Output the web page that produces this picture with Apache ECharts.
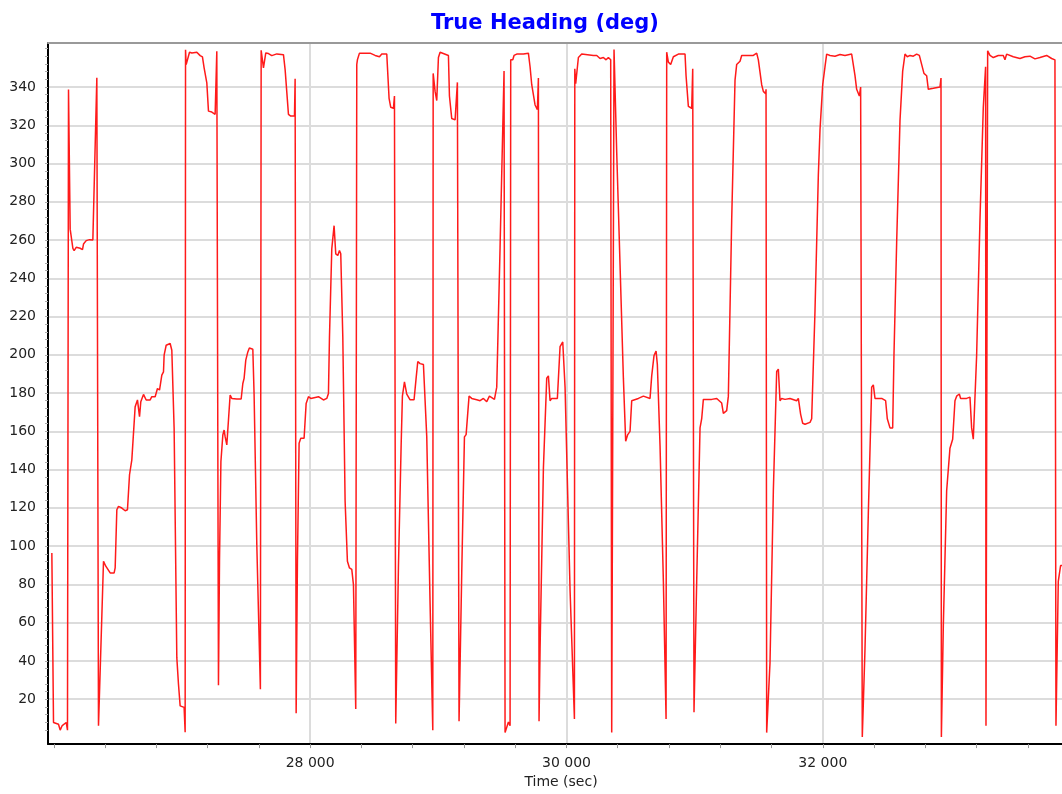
<!DOCTYPE html>
<html>
<head>
<meta charset="utf-8">
<script src="https://cdn.jsdelivr.net/npm/echarts@6/dist/echarts.min.js"></script>
<style>
html,body{margin:0;padding:0;background:#fff;}
#chart{width:1062px;height:794px;}
</style>
</head>
<body>
<div id="chart"></div>
<script>
const chartTitle = 'True Heading (deg)';
const xAxisName = 'Time (sec)';
const xRange = [25955, 33866];
const yRange = [-3.5, 363];
const xTickLabels = [28000, 30000, 32000];
const yTickLabels = [20, 40, 60, 80, 100, 120, 140, 160, 180, 200, 220, 240, 260, 280, 300, 320, 340];
const xMinorStep = 400;
const yMinorStep = 4;

const times = [
25985,25998,26037,26050,26066,26097,26107,26115,26128,26149,26159,26175,26206,26224,26232,26253,26279,26305,26315,26336,
26349,26388,26406,26440,26471,26479,26492,26505,26531,26557,26575,26591,26609,26635,26648,26653,26669,26679,26700,26721,
26752,26765,26791,26809,26825,26843,26856,26861,26877,26908,26921,26939,26960,26973,26986,26999,27017,27025,27028,27033,
27043,27059,27077,27116,27142,27160,27173,27194,27207,27233,27259,27272,27285,27293,27304,27319,27329,27337,27350,27363,
27376,27389,27402,27428,27462,27475,27485,27498,27514,27526,27553,27563,27584,27612,27618,27636,27644,27654,27675,27701,
27740,27792,27805,27831,27849,27878,27883,27891,27901,27914,27927,27953,27969,27987,28005,28031,28065,28104,28130,28143,
28151,28169,28187,28200,28216,28229,28239,28255,28273,28291,28307,28325,28338,28356,28364,28369,28385,28468,28507,28541,
28559,28598,28616,28629,28650,28658,28668,28689,28710,28720,28736,28754,28780,28811,28827,28840,28858,28884,28910,28936,
28957,28960,28975,28988,29001,29014,29027,29079,29087,29105,29131,29144,29149,29162,29183,29204,29217,29240,29261,29300,
29326,29352,29378,29399,29438,29456,29482,29513,29521,29547,29560,29565,29581,29591,29612,29664,29703,29716,29729,29755,
29773,29781,29786,29794,29820,29846,29859,29872,29885,29929,29950,29971,29989,30028,30062,30065,30072,30093,30119,30210,
30236,30262,30288,30309,30327,30345,30353,30371,30392,30418,30444,30462,30478,30496,30509,30522,30561,30600,30652,30665,
30683,30699,30709,30730,30756,30777,30782,30795,30813,30834,30873,30925,30933,30951,30977,30985,30995,31016,31042,31055,
31068,31094,31133,31172,31211,31224,31250,31263,31289,31315,31328,31354,31367,31406,31458,31484,31497,31523,31536,31554,
31557,31562,31588,31614,31640,31653,31666,31679,31705,31744,31796,31809,31827,31843,31861,31900,31913,31939,31965,31978,
31999,32017,32030,32056,32095,32134,32173,32225,32238,32251,32264,32285,32295,32303,32308,32329,32355,32381,32394,32407,
32459,32490,32503,32524,32545,32555,32576,32602,32623,32641,32659,32680,32706,32732,32753,32771,32789,32810,32823,32862,
32914,32922,32925,32940,32966,32992,33013,33031,33044,33065,33075,33122,33148,33161,33174,33187,33200,33226,33252,33270,
33273,33286,33304,33330,33369,33408,33421,33434,33486,33538,33577,33616,33655,33694,33746,33785,33811,33819,33837,33855,
33866
];

const headings = [
96.4,7.8,6.9,3.8,6.2,7.8,3.8,338.7,265.7,255.7,254.5,256.2,255.7,255.0,257.9,259.7,260.2,260.0,260.5,344.8,
6.1,92.1,89.5,86.0,86.0,88.6,119.0,120.8,119.9,118.5,119.0,137.3,145.1,172.9,172.0,176.4,167.7,175.5,179.3,176.4,
176.4,178.1,178.1,182.4,181.6,189.4,191.1,199.8,205.0,205.9,202.4,161.6,41.7,27.8,16.5,17.4,15.7,2.7,359.5,351.7,
352.6,358.2,357.8,358.2,356.4,355.7,350.0,342.2,327.4,326.9,325.7,358.7,27.3,92.1,144.2,158.1,160.7,157.2,152.9,165.9,
179.0,177.2,178.1,176.9,176.9,185.0,187.7,197.2,201.5,203.6,202.9,179.0,100.8,25.2,359.2,350.0,349.1,357.8,357.5,356.4,
357.3,356.9,349.1,325.7,324.8,324.8,344.3,12.6,92.1,153.8,156.4,156.4,174.6,178.1,177.2,177.6,178.1,176.4,177.2,179.8,
209.3,255.4,267.5,252.8,251.9,254.5,252.8,209.3,123.4,92.1,88.6,87.8,79.9,14.8,351.8,354.2,357.7,357.7,356.5,355.8,
357.2,357.2,334.1,329.4,328.9,335.3,7.3,88.7,152.4,178.4,185.9,179.5,176.5,176.5,187.8,196.5,195.4,194.9,157.1,69.8,
3.7,347.1,337.7,332.9,355.4,358.2,357.2,356.5,335.3,323.5,322.8,323.5,342.4,8.4,86.3,157.1,158.3,178.4,177.2,176.5,
176.0,177.2,175.5,178.4,176.7,183.1,256.2,348.3,2.5,8.0,6.1,354.2,354.2,356.5,357.2,357.2,357.7,350.6,341.2,330.6,
328.2,344.7,8.4,46.2,140.6,187.8,189.0,176.0,177.2,177.2,204.3,206.7,183.1,76.9,9.6,349.5,341.7,355.4,357.2,356.5,
356.5,354.9,355.4,354.2,355.4,354.2,2.5,359.6,305.8,246.8,187.8,154.8,158.3,160.0,176.0,176.0,177.2,178.4,177.2,189.0,
199.6,202.0,194.9,152.4,81.6,9.6,358.2,353.0,351.8,355.8,357.2,357.2,345.9,329.9,328.9,349.5,13.2,81.6,161.8,166.6,
176.7,176.7,176.7,177.2,174.8,169.4,170.8,178.4,270.4,343.6,351.8,353.5,356.5,356.5,356.5,357.7,354.2,341.2,337.7,336.5,
338.8,2.5,39.1,128.8,191.3,192.5,176.0,177.2,176.7,177.2,176.0,177.2,168.9,164.2,163.7,164.7,166.6,223.2,294.0,317.6,
341.2,350.6,357.2,356.5,356.1,357.0,356.5,357.2,356.5,345.9,338.8,335.3,340.0,340.0,0.2,46.2,117.0,183.1,184.3,177.2,
177.2,176.0,166.6,161.8,161.8,199.6,258.6,322.3,348.3,357.2,355.8,356.5,356.1,357.2,356.5,351.8,347.1,345.9,338.8,339.3,
340.0,344.7,0.2,58.0,128.8,151.2,155.9,176.0,178.4,179.5,177.2,177.2,177.9,161.8,155.9,155.9,199.6,270.4,329.4,350.6,
6.1,358.9,356.5,355.4,356.5,356.5,354.2,357.2,355.8,354.9,355.8,356.1,354.7,355.4,356.5,354.9,354.2,6.1,81.6,89.8,
89.8
];

const seriesData = times.map((t, i) => [t, headings[i]]);

const xMinorTicks = [];
for (let v = Math.ceil(xRange[0] / xMinorStep) * xMinorStep; v <= xRange[1]; v += xMinorStep) xMinorTicks.push(v);
const yMinorTicks = [];
for (let v = yMinorStep; v <= 360; v += yMinorStep) yMinorTicks.push(v);

const FONT = 'DejaVu Sans';
const fmtThousands = v => String(v).replace(/\B(?=(\d{3})+(?!\d))/g, ' ');

const chart = echarts.init(document.getElementById('chart'), null, {renderer: 'canvas'});
chart.setOption({
  animation: false,
  backgroundColor: '#ffffff',
  title: {
    text: chartTitle,
    left: 426,
    top: 8,
    textStyle: {color: '#0000ff', fontFamily: FONT, fontWeight: 'bold', fontSize: 21}
  },
  grid: {left: 48, right: 0, top: 43, bottom: 47, containLabel: false},
  xAxis: [
    {
      type: 'value', min: xRange[0], max: xRange[1], position: 'bottom',
      name: xAxisName, nameLocation: 'middle', nameGap: 29,
      nameTextStyle: {color: '#222', fontFamily: FONT, fontSize: 14, padding: [0, 0, 0, 12]},
      axisLine: {show: true, onZero: false, lineStyle: {color: '#000', width: 2}},
      axisTick: {show: false, customValues: xTickLabels},
      axisLabel: {customValues: xTickLabels, color: '#222', fontFamily: FONT, fontSize: 14, margin: 12, formatter: fmtThousands},
      splitLine: {show: true, lineStyle: {color: '#dcdcdc', width: 2}}
    },
    {
      type: 'value', min: xRange[0], max: xRange[1], position: 'bottom',
      axisLine: {show: false, onZero: false},
      axisTick: {show: true, customValues: xMinorTicks, length: 4, lineStyle: {color: '#999', width: 1}},
      axisLabel: {show: false},
      splitLine: {show: false}
    },
    {
      type: 'value', min: xRange[0], max: xRange[1], position: 'top',
      axisLine: {show: true, onZero: false, lineStyle: {color: '#999', width: 2}},
      axisTick: {show: false}, axisLabel: {show: false}, splitLine: {show: false}
    }
  ],
  yAxis: [
    {
      type: 'value', min: yRange[0], max: yRange[1], position: 'left',
      axisLine: {show: true, onZero: false, lineStyle: {color: '#000', width: 2}},
      axisTick: {show: false, customValues: yTickLabels},
      axisLabel: {customValues: yTickLabels, color: '#222', fontFamily: FONT, fontSize: 14, margin: 12},
      splitLine: {show: true, lineStyle: {color: '#dcdcdc', width: 2}}
    },
    {
      type: 'value', min: yRange[0], max: yRange[1], position: 'left',
      axisLine: {show: false, onZero: false},
      axisTick: {show: true, customValues: yMinorTicks, length: 3, lineStyle: {color: '#aaa', width: 1}},
      axisLabel: {show: false},
      splitLine: {show: false}
    }
  ],
  series: [{
    type: 'line',
    xAxisIndex: 0, yAxisIndex: 0,
    data: seriesData,
    showSymbol: false,
    symbol: 'none',
    sampling: null,
    lineStyle: {color: '#ff1a1a', width: 1.5},
    itemStyle: {color: '#ff0000'}
  }]
});
</script>
</body>
</html>
